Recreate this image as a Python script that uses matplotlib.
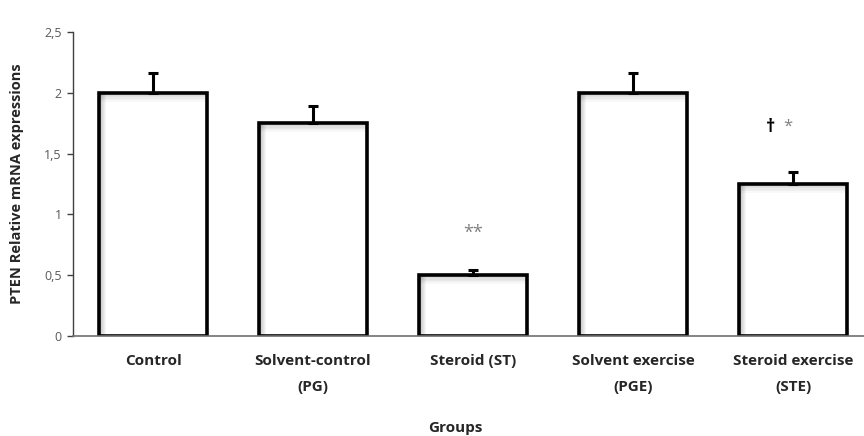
import numpy as np
import matplotlib
matplotlib.use("Agg")
import matplotlib.pyplot as plt

groups = ["Control", "Solvent-control\n(PG)", "Steroid (ST)",
          "Solvent exercise\n(PGE)", "Steroid exercise\n(STE)"]
means = [2.0, 1.75, 0.5, 2.0, 1.25]
errs = [0.16, 0.14, 0.04, 0.16, 0.10]
yticks = [0, 0.5, 1, 1.5, 2, 2.5]
ytick_labels = ["0", "0,5", "1", "1,5", "2", "2,5"]

plt.rcParams["font.family"] = ["Open Sans", "DejaVu Sans"]

fig = plt.figure(figsize=(8.64, 4.36), dpi=100)
ax = fig.add_axes([73/864, 100/436, 800/864, 304/436])

x = np.arange(len(groups))
w = 0.675

# soft inner shadow along left and top edges of each bar
for k in range(6):
    a = 0.22 * (1 - k/6)
    ax.bar(x - w/2 + 0.008 + k*0.006, means, width=0.006, align="edge",
           color="k", alpha=a, linewidth=0, zorder=2)
    ax.bar(x, [0.012]*len(x), bottom=np.array(means) - 0.012*(k+1), width=w,
           color="k", alpha=a*0.8, linewidth=0, zorder=2)

ax.bar(x, means, width=w, color="white", edgecolor="black", linewidth=2.6, zorder=1)
ax.errorbar(x, means, yerr=[np.zeros(len(x)), errs], fmt="none", ecolor="black",
            elinewidth=2.2, capsize=3.5, capthick=2.2, zorder=3)

ax.text(2, 0.85, "**", ha="center", va="center", fontsize=13, color="#808080")
ax.text(3.86, 1.72, "†", ha="center", va="center", fontsize=13, color="black",
        fontweight="bold")
ax.text(3.97, 1.72, "*", ha="center", va="center", fontsize=12, color="#808080")

ax.set_xlim(-0.5, 4.5)
ax.set_ylim(0, 2.5)
ax.set_yticks(yticks)
ax.set_yticklabels(ytick_labels, fontsize=9, color="#595959")
ax.set_xticks(x)
ax.set_xticklabels(groups, fontsize=11, fontweight="bold", linespacing=2.1,
                   color="#262626")
ax.tick_params(axis="x", length=0, pad=13)
ax.tick_params(axis="y", length=4, width=1, color="#404040", pad=4)
for s in ["top", "right"]:
    ax.spines[s].set_visible(False)
ax.spines["left"].set_color("#404040")
ax.spines["bottom"].set_color("#707070")
ax.spines["left"].set_linewidth(1)
ax.spines["bottom"].set_linewidth(1.2)

ax.set_ylabel("PTEN Relative mRNA expressions", fontsize=10.5, fontweight="bold",
              color="#262626", va="center")
ax.yaxis.set_label_coords(-56/800, 0.5)
fig.text(455/864, 1 - 428/436, "Groups", ha="center", va="center",
         fontsize=11, fontweight="bold", color="#262626")

fig.savefig("out.png", dpi=100)
